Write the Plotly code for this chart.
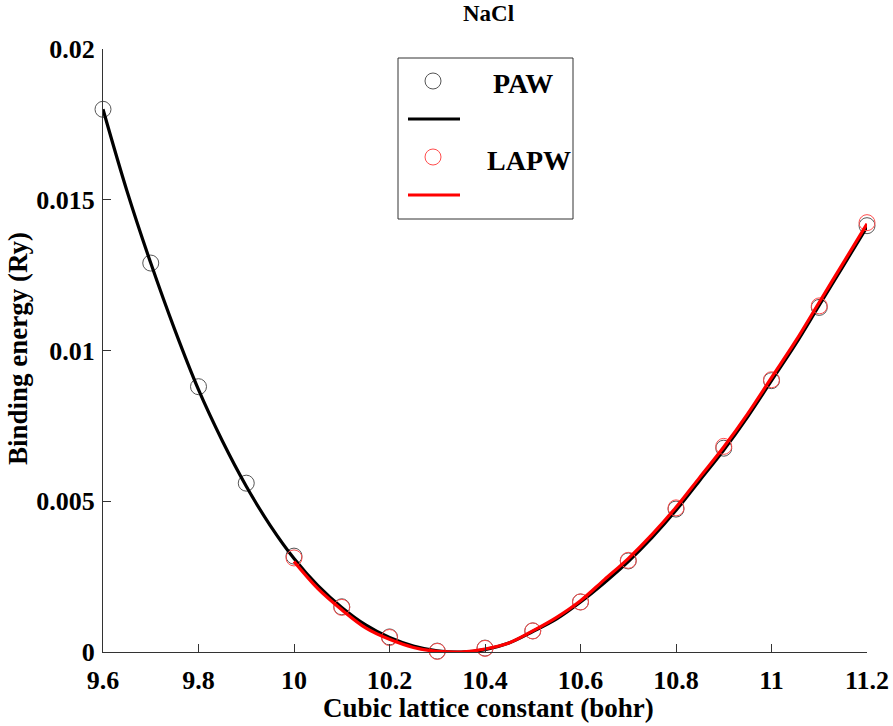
import plotly.graph_objects as go

# Lattice constants (bohr) and binding energies (Ry)
paw_a = [9.6, 9.7, 9.8, 9.9, 10.0, 10.1, 10.2, 10.3, 10.4, 10.5,
         10.6, 10.7, 10.8, 10.9, 11.0, 11.1, 11.2]
paw_e = [0.0180, 0.0129, 0.0088, 0.0056, 0.00318, 0.0015, 0.0005, 0.00003, 0.00013, 0.0007,
         0.00166, 0.00302, 0.00474, 0.00676, 0.0090, 0.01143, 0.01414]

lapw_a = [10.0, 10.1, 10.2, 10.3, 10.4, 10.5, 10.6, 10.7, 10.8, 10.9, 11.0, 11.1, 11.2]
lapw_e = [0.00312, 0.00148, 0.00048, 0.00002, 0.00012, 0.0007, 0.00166, 0.00304, 0.00478,
          0.00682, 0.00903, 0.01148, 0.01424]

# Fitted equation-of-state curves
paw_fit_a = [9.60, 9.65, 9.70, 9.75, 9.80, 9.85, 9.90, 9.95, 10.00, 10.05, 10.10, 10.15,
             10.20, 10.25, 10.30, 10.35, 10.40, 10.45, 10.50, 10.55, 10.60, 10.65, 10.70,
             10.75, 10.80, 10.85, 10.90, 10.95, 11.00, 11.05, 11.10, 11.15, 11.20]
paw_fit_e = [0.0180, 0.0153, 0.0129, 0.0107, 0.0087, 0.0070, 0.0055, 0.0042, 0.0031, 0.0022,
             0.00148, 0.0009, 0.00048, 0.0002, 0.00004, 0.0, 0.00008, 0.0003, 0.00068, 0.0011,
             0.00166, 0.0023, 0.0030, 0.0038, 0.0047, 0.0057, 0.0067, 0.0078, 0.0090, 0.0102,
             0.0115, 0.0128, 0.0141]

lapw_fit_a = [10.00, 10.05, 10.10, 10.15, 10.20, 10.25, 10.30, 10.35, 10.40, 10.45, 10.50,
              10.55, 10.60, 10.65, 10.70, 10.75, 10.80, 10.85, 10.90, 10.95, 11.00, 11.05,
              11.10, 11.15, 11.20]
lapw_fit_e = [0.0030, 0.0021, 0.0014, 0.0008, 0.00042, 0.00015, 0.00002, 0.0, 0.0001, 0.0003,
              0.0007, 0.00115, 0.0017, 0.0024, 0.0031, 0.0039, 0.0048, 0.0058, 0.0068, 0.0079,
              0.0091, 0.0103, 0.0116, 0.0129, 0.0142]

x_ticks = [9.6, 9.8, 10.0, 10.2, 10.4, 10.6, 10.8, 11.0, 11.2]
x_tick_text = ["9.6", "9.8", "10", "10.2", "10.4", "10.6", "10.8", "11", "11.2"]
y_ticks = [0, 0.005, 0.01, 0.015, 0.02]
y_tick_text = ["0", "0.005", "0.01", "0.015", "0.02"]

W, H = 893, 726
ML, MR, MT, MB = 103, 26, 49, 74
PW, PH = W - ML - MR, H - MT - MB

FONT = "Liberation Serif, Times New Roman, serif"
BLACK_MK = "#555555"
RED_MK = "#ff4d4d"


def px(x):
    return (x - ML) / PW


def py(y):
    return (H - MB - y) / PH


fig = go.Figure()

fig.add_trace(go.Scatter(x=paw_a, y=paw_e, mode="markers", cliponaxis=False,
                         marker=dict(symbol="circle-open", size=16,
                                     color=BLACK_MK, line=dict(width=1, color=BLACK_MK))))
fig.add_trace(go.Scatter(x=paw_fit_a, y=paw_fit_e, mode="lines", line_shape="spline",
                         line=dict(color="black", width=3.2)))
fig.add_trace(go.Scatter(x=lapw_a, y=lapw_e, mode="markers", cliponaxis=False,
                         marker=dict(symbol="circle-open", size=16,
                                     color=RED_MK, line=dict(width=1, color=RED_MK))))
fig.add_trace(go.Scatter(x=lapw_fit_a, y=lapw_fit_e, mode="lines", line_shape="spline",
                         line=dict(color="#ff0000", width=3.2)))

axis_common = dict(
    showgrid=False, zeroline=False, showline=True, linecolor="#333333", linewidth=1,
    ticks="inside", ticklen=8, tickcolor="#333333", tickwidth=1, mirror=False,
    automargin=False,
    tickfont=dict(family=FONT, size=26, color="black", weight="bold"),
)

fig.update_layout(
    width=W, height=H,
    margin=dict(l=ML, r=MR, t=MT, b=MB),
    paper_bgcolor="white", plot_bgcolor="white",
    showlegend=False,
    xaxis=dict(range=[9.6, 11.2], tickvals=x_ticks, ticktext=x_tick_text,
               ticklabelstandoff=5, **axis_common),
    yaxis=dict(range=[0, 0.02], tickvals=y_ticks, ticktext=y_tick_text,
               ticklabelstandoff=2, **axis_common),
)

annotations = [
    dict(text="<b>NaCl</b>", x=px(489), y=py(14), xref="paper", yref="paper",
         showarrow=False, font=dict(family=FONT, size=23, color="black"),
         xanchor="center", yanchor="middle"),
    dict(text="<b>Cubic lattice constant (bohr)</b>", x=px(488), y=py(708),
         xref="paper", yref="paper", showarrow=False,
         font=dict(family=FONT, size=27, color="black"), xanchor="center", yanchor="middle"),
    dict(text="<b>Binding energy (Ry)</b>", x=px(18), y=py(349), textangle=-90,
         xref="paper", yref="paper", showarrow=False,
         font=dict(family=FONT, size=27, color="black"), xanchor="center", yanchor="middle"),
    dict(text="<b>PAW</b>", x=px(491), y=py(84), xref="paper", yref="paper",
         showarrow=False, font=dict(family=FONT, size=28, color="black"),
         xanchor="left", yanchor="middle"),
    dict(text="<b>LAPW</b>", x=px(485), y=py(160), xref="paper", yref="paper",
         showarrow=False, font=dict(family=FONT, size=28, color="black"),
         xanchor="left", yanchor="middle"),
]

shapes = [
    # legend frame
    dict(type="rect", xref="paper", yref="paper", x0=px(398), x1=px(573), y0=py(219), y1=py(58),
         line=dict(color="#333333", width=1), fillcolor="white", layer="above"),
    # legend marker samples
    dict(type="circle", xref="paper", yref="paper", xsizemode="pixel", ysizemode="pixel",
         xanchor=px(433), yanchor=py(81), x0=-8, x1=8, y0=-8, y1=8,
         line=dict(color=BLACK_MK, width=1), layer="above"),
    dict(type="circle", xref="paper", yref="paper", xsizemode="pixel", ysizemode="pixel",
         xanchor=px(433), yanchor=py(157), x0=-8, x1=8, y0=-8, y1=8,
         line=dict(color=RED_MK, width=1), layer="above"),
    # legend line samples
    dict(type="line", xref="paper", yref="paper", x0=px(408), x1=px(460), y0=py(119), y1=py(119),
         line=dict(color="black", width=3.2), layer="above"),
    dict(type="line", xref="paper", yref="paper", x0=px(408), x1=px(460), y0=py(195), y1=py(195),
         line=dict(color="#ff0000", width=3.2), layer="above"),
]

fig.update_layout(annotations=annotations, shapes=shapes)

fig.write_html("out.html")
